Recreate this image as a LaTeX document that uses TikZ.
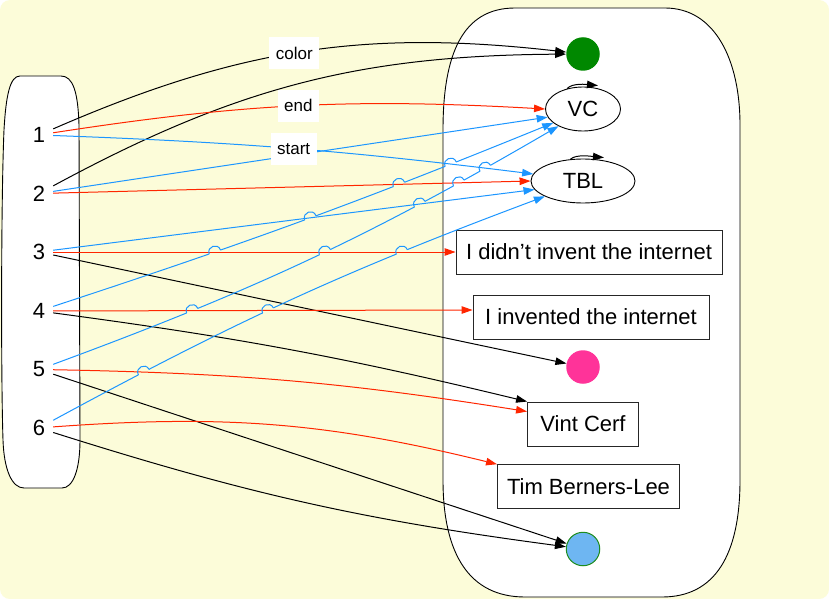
\documentclass[tikz,border=0pt]{standalone}
\usepackage{fontspec}
\setmainfont{Liberation Sans}
\usetikzlibrary{arrows.meta,calc,intersections,shapes.geometric}

\definecolor{paper}{RGB}{252,252,217}
\definecolor{edgered}{RGB}{255,38,0}
\definecolor{edgeblue}{RGB}{28,150,255}
\definecolor{dotgreen}{RGB}{0,136,0}
\definecolor{dotpink}{RGB}{255,51,153}
\definecolor{dotblue}{RGB}{110,182,242}
\definecolor{ringgreen}{RGB}{30,140,30}

% radius of the little jumps a blue connector makes over a crossing line
\newcommand\hoprad{6pt}
% \makehop{hopping path}{crossed path}{name}: crossing point <name>,
% and the two points <name>a, <name>b where the jump starts and ends
\newcommand\makehop[3]{%
  \path[name intersections={of=#1 and #2, by={#3}}];
  \path[name path=ring#3] (#3) circle[radius=\hoprad];
  \path[name intersections={of=#1 and ring#3, sort by=#1, by={#3a,#3b}}];
}

\begin{document}
\begin{tikzpicture}[x=1pt,y=-1pt,
  every node/.style={font=\fontsize{22}{24}\selectfont},
  numnode/.style={minimum width=28pt, minimum height=22pt, inner sep=0pt},
  txtbox/.style={draw=black!85, fill=white, line width=0.9pt, minimum height=44pt, inner sep=0pt},
  ovalnode/.style={ellipse, draw, fill=white, line width=0.9pt, minimum height=44pt, inner sep=0pt},
  dotnode/.style={circle, minimum size=33.5pt, inner sep=0pt},
  wirebase/.style={line width=1pt, -{Triangle[length=11pt,width=7.5pt]}},
  blkwire/.style={wirebase, draw=black},
  redwire/.style={wirebase, draw=edgered, -{Triangle[length=11pt,width=7.5pt,fill=edgered]}},
  bluewire/.style={wirebase, draw=edgeblue, -{Triangle[length=11pt,width=7.5pt,fill=edgeblue]}},
  hopline/.style={line width=1pt, draw=edgeblue},
  edgelabel/.style={fill=white, font=\fontsize{17}{20}\selectfont, inner xsep=6.5pt, inner ysep=0pt, minimum height=32pt},
  container/.style={draw=black, fill=white, line width=0.9pt},
]
% canvas
\fill[white] (0,0) rectangle (829,599);
\fill[paper, rounded corners=10pt] (0,0) rectangle (829,599);
\path[use as bounding box] (0,0) rectangle (829,599);

% the two groups
\path[container] (20,76) -- (61,76) .. controls (73,76) and (78,92) .. (79,125)
  -- (80,440) .. controls (80,470) and (73,488) .. (62,488) -- (24,488)
  .. controls (12,488) and (4,470) .. (3,440) .. controls (1,380) and (1,200) .. (4,130)
  .. controls (6,95) and (10,76) .. (20,76) -- cycle;
\path[container] (515,8) -- (665,8) .. controls (715,8) and (740,60) .. (740,125)
  -- (740,480) .. controls (740,555) and (715,597) .. (662,597) -- (525,597)
  .. controls (470,597) and (443,555) .. (443,480) -- (443,130)
  .. controls (443,55) and (462,8) .. (515,8) -- cycle;

% left column
\node[numnode] (n1) at (39,135)   {1};
\node[numnode] (n2) at (39,193.5) {2};
\node[numnode] (n3) at (39,252)   {3};
\node[numnode] (n4) at (39,311)   {4};
\node[numnode] (n5) at (39,369.5) {5};
\node[numnode] (n6) at (39,428)   {6};

% right column
\node[dotnode, fill=dotgreen] (green) at (583,54) {};
\node[ovalnode, minimum width=75pt]  (VC)  at (583,109) {VC};
\node[ovalnode, minimum width=104pt] (TBL) at (583,181) {TBL};
\node[txtbox, minimum width=266pt] (didnt) at (589,252) {I didn’t invent the internet};
\node[txtbox, minimum width=236pt] (inv) at (591,317) {I invented the internet};
\node[dotnode, fill=dotpink] (pink) at (583,367) {};
\node[txtbox, minimum width=111pt] (vcerf) at (583,424) {Vint Cerf};
\node[txtbox, minimum width=182pt] (tblbox) at (588.5,486.7) {Tim Berners-Lee};
\node[dotnode, fill=dotblue, draw=ringgreen, line width=1pt] (lbdot) at (583,549) {};

% self connections on the two ovals
\draw[blkwire] (VC.128) .. controls +(5,-6) and +(-10,-1) .. ($(VC.north)+(15,-1)$);
\draw[blkwire] (TBL.120) .. controls +(6,-5.5) and +(-11,-1) .. ($(TBL.north)+(21,-1)$);

% black connectors
\draw[blkwire] (n1) to[bend left=15] coordinate[pos=.48] (lcolor) (green);
\draw[blkwire] (n2) to[bend left=14] (green);
\draw[blkwire] (n3) -- (pink);
\draw[blkwire] (n4) to[bend left=3] (vcerf.north west);
\draw[blkwire] (n5) -- (lbdot);
\draw[blkwire] (n6) to[bend right=5] (lbdot);

% red connectors
\draw[redwire, name path=R1] (n1) to[bend left=6] coordinate[pos=.5] (lend) (VC.west);
\draw[redwire, name path=R2] (n2) -- (TBL.west);
\draw[redwire, name path=R3] (n3) -- (didnt.west);
\draw[redwire, name path=R4] (n4) -- ($(inv.west)+(0,-7)$);
\draw[redwire, name path=R5] (n5) to[bend left=4] ($(vcerf.west)+(0,-12.5)$);
\draw[redwire, name path=R6] (n6) to[bend left=9] (tblbox.north west);

% blue connectors without jumps
\draw[bluewire, name path=U1] (n1) to[bend left=2.5] coordinate[pos=.5] (lstart) (TBL.172);
\draw[bluewire] (n2) -- (VC.193);
\draw[bluewire, name path=U3] (n3) -- (TBL.190);

% blue connectors that jump over the lines they cross
\path[name path=U4] (n4) to[bend right=2] (VC.205);
\path[name path=U5] (n5) to[bend right=5] (VC.215);
\path[name path=U6] (n6) to[bend left=4] (TBL.202);

\makehop{U4}{R3}{ha}
\makehop{U4}{U3}{hb}
\makehop{U4}{R2}{hc}
\makehop{U4}{U1}{hd}
\makehop{U5}{R4}{he}
\makehop{U5}{R3}{hf}
\makehop{U5}{U3}{hg}
\makehop{U5}{R2}{hh}
\makehop{U5}{U1}{hi}
\makehop{U6}{R5}{hj}
\makehop{U6}{R4}{hk}
\makehop{U6}{R3}{hl}

\begin{scope}[even odd rule]
  \clip (-5,-5) rectangle (835,605)
    (ha) circle[radius=\hoprad] (hb) circle[radius=\hoprad]
    (hc) circle[radius=\hoprad] (hd) circle[radius=\hoprad];
  \draw[bluewire] (n4) to[bend right=2] (VC.205);
\end{scope}
\begin{scope}[even odd rule]
  \clip (-5,-5) rectangle (835,605)
    (he) circle[radius=\hoprad] (hf) circle[radius=\hoprad]
    (hg) circle[radius=\hoprad] (hh) circle[radius=\hoprad]
    (hi) circle[radius=\hoprad];
  \draw[bluewire] (n5) to[bend right=5] (VC.215);
\end{scope}
\begin{scope}[even odd rule]
  \clip (-5,-5) rectangle (835,605)
    (hj) circle[radius=\hoprad] (hk) circle[radius=\hoprad]
    (hl) circle[radius=\hoprad];
  \draw[bluewire] (n6) to[bend left=4] (TBL.202);
\end{scope}

\foreach \h in {ha,hb,hc,hd,he,hf,hg,hh,hi,hj,hk,hl}
  \draw[hopline] (\h a) to[bend left=90, looseness=1.7] (\h b);

% connector labels
\node[edgelabel] at (lcolor) {color};
\node[edgelabel] at (lend) {end};
\node[edgelabel] at (lstart) {start};
\end{tikzpicture}
\end{document}
